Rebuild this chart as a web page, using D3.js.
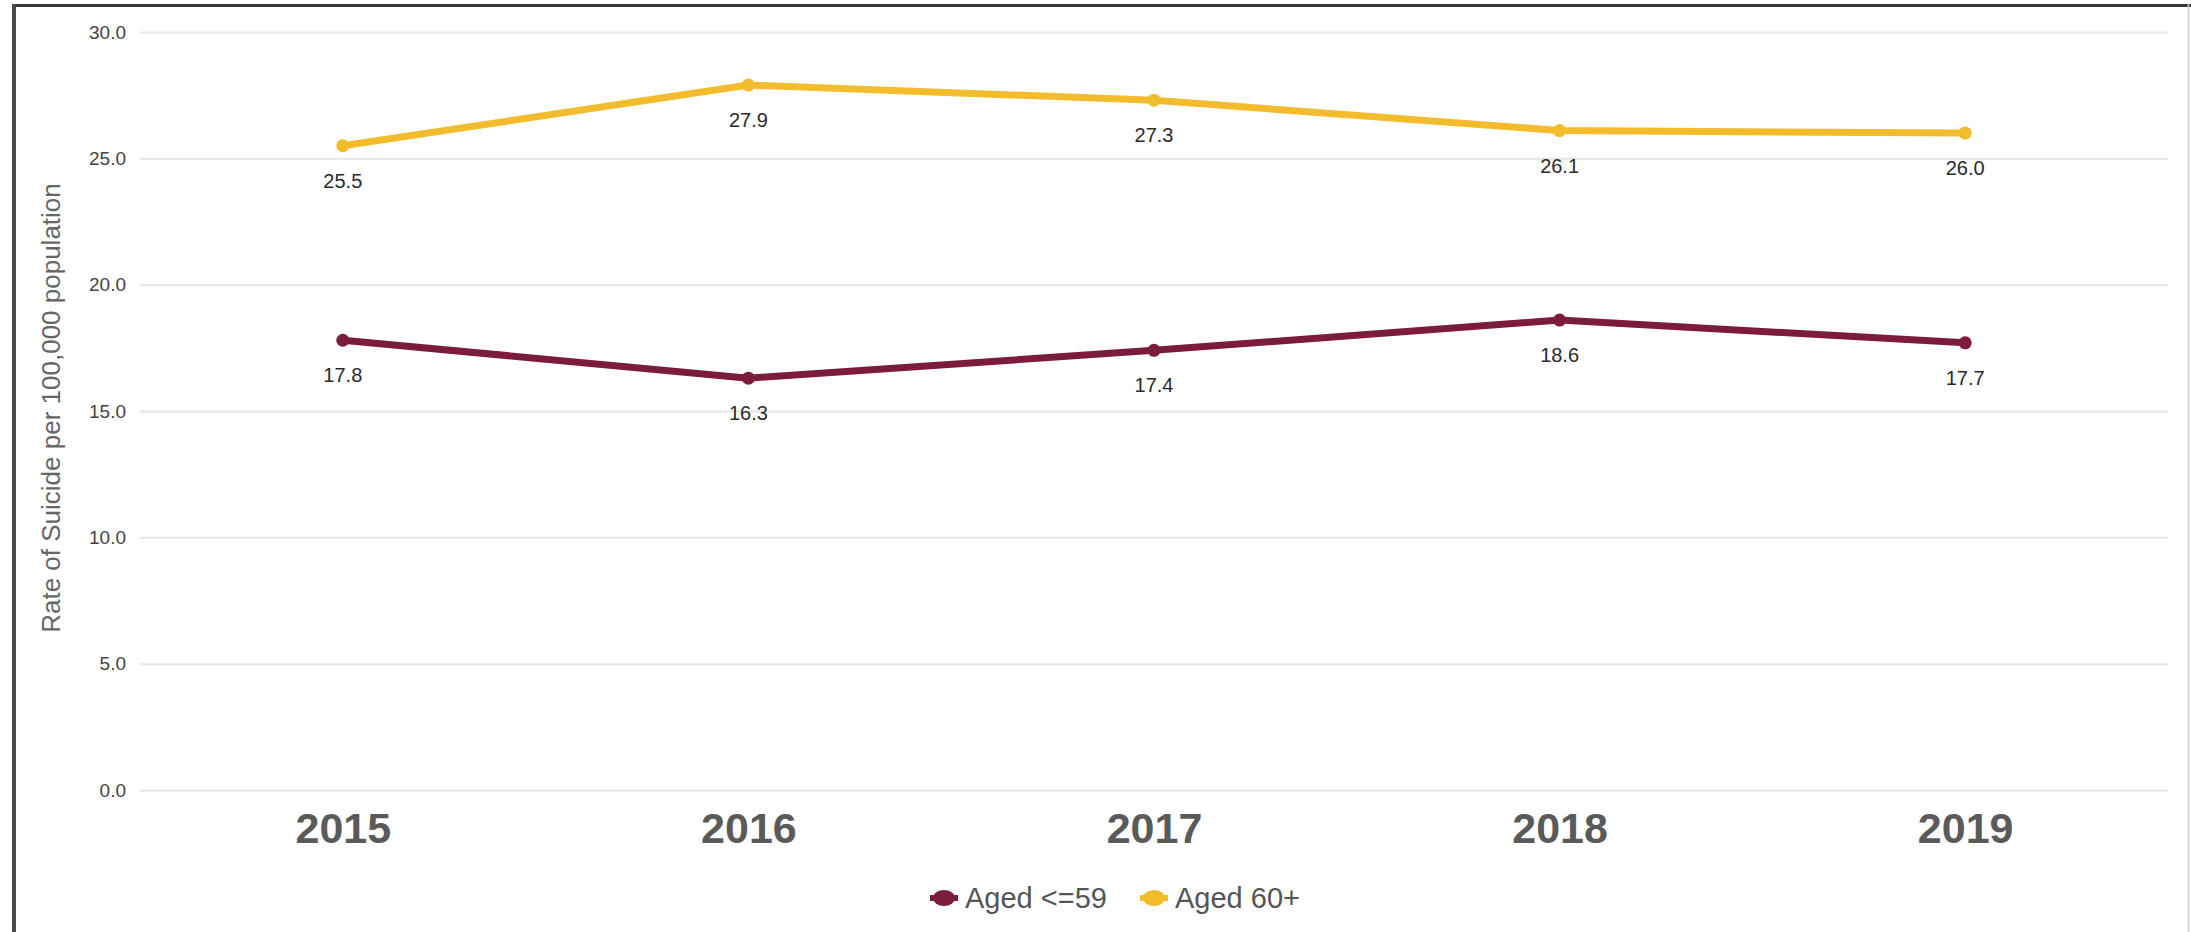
<!DOCTYPE html>
<html>
<head>
<meta charset="utf-8">
<script src="https://cdn.jsdelivr.net/npm/d3@7"></script>
<style>
  html, body { margin: 0; padding: 0; background: #fff; }
  svg { display: block; font-family: "Liberation Sans", Arial, sans-serif; }
</style>
</head>
<body>
<svg id="chart" width="2191" height="932"></svg>
<script>
const years = ["2015", "2016", "2017", "2018", "2019"];
const agedUnder60 = [17.8, 16.3, 17.4, 18.6, 17.7];
const aged60plus = [25.5, 27.9, 27.3, 26.1, 26.0];
const seriesNames = ["Aged <=59", "Aged 60+"];
const seriesColors = ["#7B1B3D", "#F3BC2C"];
const yTicks = [0, 5, 10, 15, 20, 25, 30];
const yTitle = "Rate of Suicide per 100,000 population";

const W = 2191, H = 932;
const svg = d3.select("#chart");

// frame
svg.append("rect").attr("x", 0).attr("y", 0).attr("width", W).attr("height", H).attr("fill", "#fff");
svg.append("line").attr("x1", 12).attr("x2", W).attr("y1", 5.5).attr("y2", 5.5).attr("stroke", "#3a3a3a").attr("stroke-width", 3);
svg.append("line").attr("x1", 14).attr("x2", 14).attr("y1", 4).attr("y2", H).attr("stroke", "#4a4a4a").attr("stroke-width", 4);
svg.append("line").attr("x1", 2188.5).attr("x2", 2188.5).attr("y1", 4).attr("y2", H).attr("stroke", "#cfcfcf").attr("stroke-width", 1.5);

const plot = { left: 140, right: 2168, top: 32, bottom: 790 };

const x = d3.scalePoint().domain(years).range([plot.left, plot.right]).padding(0.5);
const y = d3.scaleLinear().domain([0, 30]).range([plot.bottom, plot.top]);

// gridlines + y tick labels via axis
const yAxis = d3.axisLeft(y).tickValues(yTicks).tickFormat(d3.format(".1f"))
  .tickSize(-(plot.right - plot.left)).tickPadding(14);
const gy = svg.append("g").attr("transform", `translate(${plot.left},0)`).call(yAxis);
gy.select(".domain").remove();
gy.selectAll(".tick line").attr("stroke", "#e6e6e6").attr("stroke-width", 2);
gy.selectAll(".tick text").attr("font-size", 19).attr("fill", "#444").attr("font-family", "Liberation Sans, Arial, sans-serif");

// x axis labels
const xAxis = d3.axisBottom(x).tickSize(0).tickPadding(22);
const gx = svg.append("g").attr("transform", `translate(0,${plot.bottom})`).call(xAxis);
gx.select(".domain").remove();
gx.selectAll(".tick text").attr("font-size", 43).attr("fill", "#5a5a5a").attr("font-weight", "bold")
  .attr("font-family", "Liberation Sans, Arial, sans-serif");

// y title
svg.append("text")
  .attr("transform", `translate(60,408) rotate(-90)`)
  .attr("text-anchor", "middle")
  .attr("font-size", 26).attr("fill", "#666")
  .text(yTitle);

// series
const series = [agedUnder60, aged60plus];
const line = d3.line().x((d, i) => x(years[i])).y(d => y(d));
series.forEach((vals, si) => {
  svg.append("path").datum(vals)
    .attr("d", line).attr("fill", "none")
    .attr("stroke", seriesColors[si]).attr("stroke-width", 7)
    .attr("stroke-linejoin", "round").attr("stroke-linecap", "round");
  svg.append("g").selectAll("circle").data(vals).join("circle")
    .attr("cx", (d, i) => x(years[i])).attr("cy", d => y(d)).attr("r", 6.5)
    .attr("fill", seriesColors[si]);
  svg.append("g").selectAll("text").data(vals).join("text")
    .attr("x", (d, i) => x(years[i])).attr("y", d => y(d) + 42)
    .attr("text-anchor", "middle").attr("font-size", 20).attr("fill", "#2a2a2a")
    .text(d => d3.format(".1f")(d));
});

// legend
const legendItems = [
  { name: seriesNames[0], color: seriesColors[0], x: 944 },
  { name: seriesNames[1], color: seriesColors[1], x: 1154 }
];
const lg = svg.append("g");
legendItems.forEach(it => {
  lg.append("line").attr("x1", it.x - 14).attr("x2", it.x + 14).attr("y1", 898).attr("y2", 898)
    .attr("stroke", it.color).attr("stroke-width", 6);
  lg.append("ellipse").attr("cx", it.x).attr("cy", 898).attr("rx", 11).attr("ry", 8).attr("fill", it.color);
  lg.append("text").attr("x", it.x + 21).attr("y", 898).attr("dy", "0.36em")
    .attr("font-size", 29).attr("fill", "#555").text(it.name);
});
</script>
</body>
</html>
